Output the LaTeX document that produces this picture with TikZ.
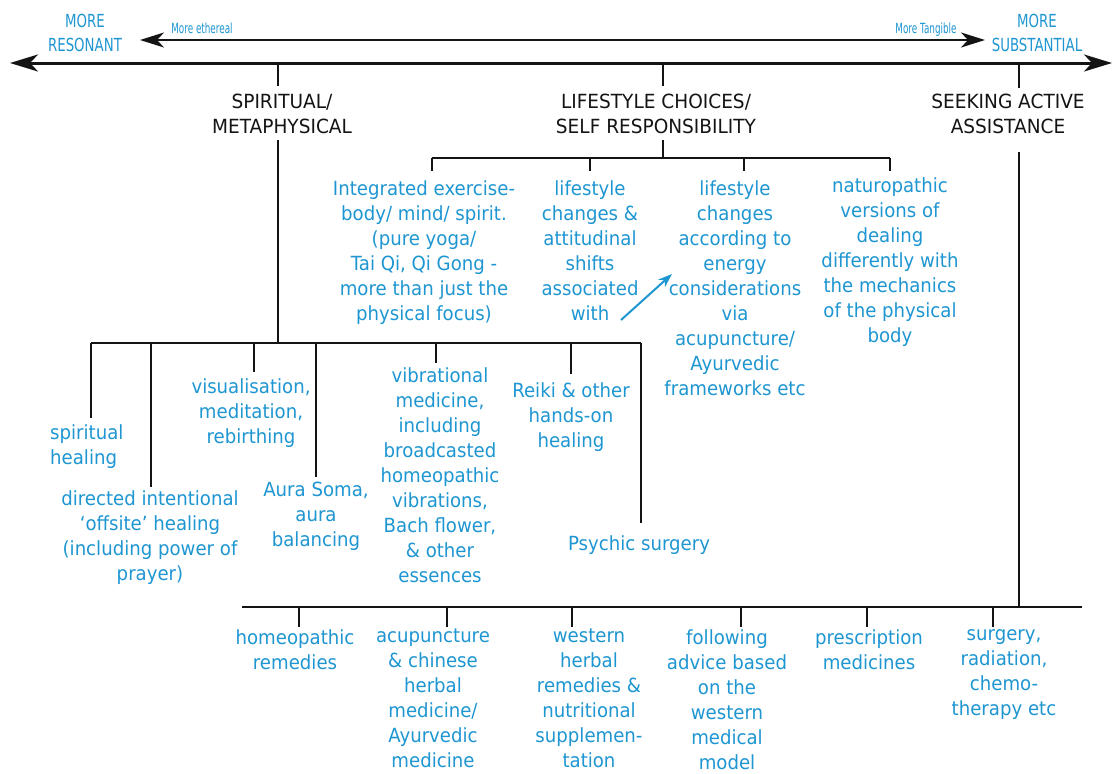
\documentclass[tikz,border=0pt]{standalone}
\usepackage{fontspec}
\usetikzlibrary{arrows.meta}
\newfontfamily\bluefont[FakeStretch=0.93]{DejaVu Sans}
\newfontfamily\capfont[FakeStretch=0.95]{DejaVu Sans}
\newfontfamily\tinyfont[FakeStretch=0.63]{DejaVu Sans}
\newfontfamily\endfont[FakeStretch=0.74]{DejaVu Sans}
\definecolor{cblue}{RGB}{30,150,210}
\definecolor{cblack}{RGB}{20,20,20}
\tikzset{
  bluetxt/.style={font=\bluefont\fontsize{19.5}{25}\selectfont, text=cblue, align=center, inner sep=0pt, anchor=north, execute at begin node=\strut},
  bluetxtl/.style={bluetxt, align=left, anchor=north west},
  captxt/.style={font=\capfont\fontsize{19.5}{25}\selectfont, text=cblack, align=center, inner sep=0pt, anchor=north, execute at begin node=\strut},
  endtxt/.style={font=\endfont\fontsize{18}{24}\selectfont, text=cblue, align=center, inner sep=0pt, anchor=north, execute at begin node=\strut},
  tinytxt/.style={font=\tinyfont\fontsize{14}{16}\selectfont, text=cblue, inner sep=0pt, anchor=base},
  ln/.style={draw=cblack, line width=2pt},
  axis/.style={draw=cblack, line width=3pt, {Stealth[length=28pt,width=17pt,inset=8pt]}-{Stealth[length=28pt,width=17pt,inset=8pt]}},
  axis2/.style={draw=cblack, line width=2.2pt, {Stealth[length=24pt,width=15pt,inset=7pt]}-{Stealth[length=24pt,width=15pt,inset=7pt]}},
  barrow/.style={draw=cblue, line width=2pt, -{Stealth[length=14pt,width=10pt]}}
}
\begin{document}
\begin{tikzpicture}[x=1pt,y=-1pt]
\useasboundingbox[fill=white] (0,0) rectangle (1117,774);

% top axes
\coordinate (axL) at (10,63);
\coordinate (axR) at (1112,63);
\draw[axis] (axL) -- (axR);
\coordinate (ax2L) at (140,40);
\coordinate (ax2R) at (985,40);
\draw[axis2] (ax2L) -- (ax2R);

\node[tinytxt] (ethereal) at (202,33) {More ethereal};
\node[tinytxt] (tangible) at (926,33) {More Tangible};
\node[endtxt] (resonant) at (85,14) {MORE\\RESONANT};
\node[endtxt] (substantial) at (1037,14) {MORE\\SUBSTANTIAL};

% ticks
\coordinate (t1) at (278,63); \coordinate (t1b) at (278,86);
\coordinate (t2) at (663,63); \coordinate (t2b) at (663,86);
\coordinate (t3) at (1019,63); \coordinate (t3b) at (1019,88);
\draw[ln] (t1) -- (t1b);
\draw[ln] (t2) -- (t2b);
\draw[ln] (t3) -- (t3b);

% category headings
\node[captxt] (spirit) at (282,94) {SPIRITUAL/\\METAPHYSICAL};
\node[captxt] (life) at (656,94) {LIFESTYLE CHOICES/\\SELF RESPONSIBILITY};
\node[captxt] (seek) at (1008,94) {SEEKING ACTIVE\\ASSISTANCE};

% lifestyle branch
\coordinate (lt) at (663,140);
\coordinate (lb) at (663,158);
\coordinate (lbL) at (432,158);
\coordinate (lbR) at (890,158);
\draw[ln] (lt) -- (lb);
\draw[ln] (lbL) -- (lbR);
\node[bluetxt] (integ) at (424,180) {Integrated exercise-\\body/ mind/ spirit.\\(pure yoga/\\Tai Qi, Qi Gong -\\more than just the\\physical focus)};
\node[bluetxt] (lchg) at (590,180) {lifestyle\\changes \&\\attitudinal\\shifts\\associated\\with};
\node[bluetxt] (lenergy) at (735,180) {lifestyle\\changes\\according to\\energy\\considerations\\via\\acupuncture/\\Ayurvedic\\frameworks etc};
\node[bluetxt] (natur) at (890,177) {naturopathic\\versions of\\dealing\\differently with\\the mechanics\\of the physical\\body};
\coordinate (l1) at (432,158); \coordinate (l1b) at (432,171);
\coordinate (l2) at (590,158); \coordinate (l2b) at (590,171);
\coordinate (l3) at (744,158); \coordinate (l3b) at (744,171);
\coordinate (l4) at (890,158); \coordinate (l4b) at (890,171);
\draw[ln] (l1) -- (l1b);
\draw[ln] (l2) -- (l2b);
\draw[ln] (l3) -- (l3b);
\draw[ln] (l4) -- (l4b);
\coordinate (arA) at (621,320);
\coordinate (arB) at (672,274);
\draw[barrow] (arA) -- (arB);

% spiritual branch
\coordinate (st) at (278,140);
\coordinate (sb) at (278,343);
\draw[ln] (st) -- (sb);
\coordinate (sbL) at (91,343);
\coordinate (sbR) at (641,343);
\draw[ln] (sbL) -- (sbR);
\node[bluetxtl] (sheal) at (50,424) {spiritual\\healing};
\node[bluetxt] (direct) at (150,490) {directed intentional\\‘offsite’ healing\\(including power of\\prayer)};
\node[bluetxt] (visual) at (251,378) {visualisation,\\meditation,\\rebirthing};
\node[bluetxt] (aura) at (316,482) {Aura Soma,\\aura\\balancing};
\node[bluetxt] (vibr) at (440,367) {vibrational\\medicine,\\including\\broadcasted\\homeopathic\\vibrations,\\Bach flower,\\\& other\\essences};
\node[bluetxt] (reiki) at (571,382) {Reiki \& other\\hands-on\\healing};
\node[bluetxt] (psych) at (639,533) {Psychic surgery};
\coordinate (s1) at (91,343);  \coordinate (s1b) at (91,418);
\coordinate (s2) at (151,343); \coordinate (s2b) at (151,487);
\coordinate (s3) at (254,343); \coordinate (s3b) at (254,372);
\coordinate (s4) at (316,343); \coordinate (s4b) at (316,477);
\coordinate (s5) at (436,343); \coordinate (s5b) at (436,363);
\coordinate (s6) at (571,343); \coordinate (s6b) at (571,374);
\coordinate (s7) at (641,343); \coordinate (s7b) at (641,523);
\draw[ln] (s1) -- (s1b);
\draw[ln] (s2) -- (s2b);
\draw[ln] (s3) -- (s3b);
\draw[ln] (s4) -- (s4b);
\draw[ln] (s5) -- (s5b);
\draw[ln] (s6) -- (s6b);
\draw[ln] (s7) -- (s7b);

% seeking branch
\coordinate (kt) at (1019,152);
\coordinate (kb) at (1019,607);
\draw[ln] (kt) -- (kb);
\coordinate (bbL) at (242,607);
\coordinate (bbR) at (1082,607);
\draw[ln] (bbL) -- (bbR);
\node[bluetxt] (homeo) at (295,629) {homeopathic\\remedies};
\node[bluetxt] (acup) at (433,629) {acupuncture\\\& chinese\\herbal\\medicine/\\Ayurvedic\\medicine};
\node[bluetxt] (west) at (589,629) {western\\herbal\\remedies \&\\nutritional\\supplemen-\\tation};
\node[bluetxt] (follow) at (727,629) {following\\advice based\\on the\\western\\medical\\model};
\node[bluetxt] (presc) at (869,629) {prescription\\medicines};
\node[bluetxt] (surg) at (1004,629) {surgery,\\radiation,\\chemo-\\therapy etc};
\coordinate (b1) at (299,607); \coordinate (b1b) at (299,627);
\coordinate (b2) at (447,607); \coordinate (b2b) at (447,627);
\coordinate (b3) at (572,607); \coordinate (b3b) at (572,627);
\coordinate (b4) at (741,607); \coordinate (b4b) at (741,627);
\coordinate (b5) at (867,607); \coordinate (b5b) at (867,627);
\coordinate (b6) at (993,607); \coordinate (b6b) at (993,627);
\draw[ln] (b1) -- (b1b);
\draw[ln] (b2) -- (b2b);
\draw[ln] (b3) -- (b3b);
\draw[ln] (b4) -- (b4b);
\draw[ln] (b5) -- (b5b);
\draw[ln] (b6) -- (b6b);
\end{tikzpicture}
\end{document}
